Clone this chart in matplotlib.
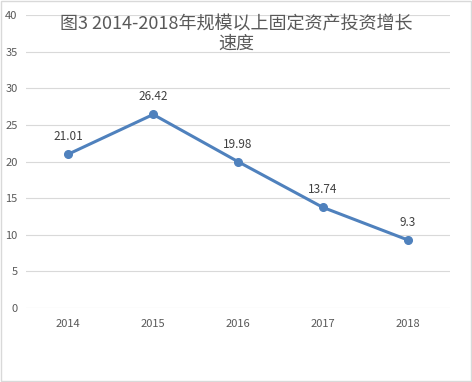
import matplotlib
matplotlib.use("Agg")
import matplotlib.pyplot as plt
from matplotlib.patches import Rectangle

plt.rcParams['font.family'] = ['Noto Sans CJK SC', 'DejaVu Sans']

years = ["2014", "2015", "2016", "2017", "2018"]
growth = [21.01, 26.42, 19.98, 13.74, 9.3]
growth_labels = ["21.01", "26.42", "19.98", "13.74", "9.3"]
y_ticks = [0, 5, 10, 15, 20, 25, 30, 35, 40]

fig = plt.figure(figsize=(4.72, 3.82), dpi=100, facecolor="white")
ax = fig.add_axes([26 / 472, 74 / 382, 424 / 472, 293 / 382])

x = list(range(len(years)))
ax.plot(x, growth, color="#4F81BD", linewidth=2.2, marker="o", markersize=5.5,
        solid_capstyle="round", zorder=3)
for xi, yi, lab in zip(x, growth, growth_labels):
    ax.annotate(lab, (xi, yi), xytext=(0, 8), textcoords="offset points",
                ha="center", va="bottom", fontsize=8.5, color="#404040")

ax.set_xlim(-0.5, len(years) - 0.5)
ax.set_ylim(0, 40)
ax.set_yticks(y_ticks)
ax.set_xticks(x)
ax.set_xticklabels(years)
ax.grid(axis="y", color="#D9D9D9", linewidth=0.8)
ax.set_axisbelow(True)
for s in ax.spines.values():
    s.set_visible(False)
ax.tick_params(length=0, labelsize=8, colors="#595959", pad=8)
ax.tick_params(axis="y", pad=6)

fig.text(0.5, 1 - 34 / 382, "图3 2014-2018年规模以上固定资产投资增长\n速度",
         ha="center", va="center", fontsize=13, color="#595959", linespacing=1.15)

fig.patches.append(Rectangle((0.002, 0.002), 0.996, 0.996, transform=fig.transFigure,
                             fill=False, edgecolor="#D9D9D9", linewidth=1))

fig.savefig("out.png", dpi=100, facecolor="white")
